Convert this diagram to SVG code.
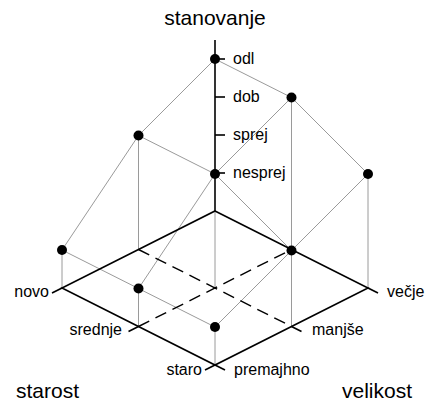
<svg xmlns="http://www.w3.org/2000/svg" width="425" height="402" viewBox="0 0 425 402">
<style>
text{font-family:"Liberation Sans",Arial,sans-serif;fill:#000}
.lbl{font-size:16px}
.title{font-size:21px}
.axis{stroke:#000;stroke-width:1.6;fill:none;stroke-linecap:butt}
.dash{stroke:#000;stroke-width:1.4;fill:none;stroke-dasharray:12,7}
.mesh{stroke:#9a9a9a;stroke-width:1;fill:none}
.dot{fill:#000}
</style>
<rect width="425" height="402" fill="#fff"/>
<g id="connectors">
<g id="drops">
<line class="mesh" x1="62" y1="250" x2="62" y2="288"/>
<line class="mesh" x1="138.5" y1="135.5" x2="138.5" y2="249.5"/>
<line class="mesh" x1="138.5" y1="288.5" x2="138.5" y2="326.5"/>
<line class="mesh" x1="215" y1="211" x2="215" y2="288"/>
<line class="mesh" x1="215" y1="327" x2="215" y2="365"/>
<line class="mesh" x1="291.5" y1="97.5" x2="291.5" y2="326.5"/>
<line class="mesh" x1="368" y1="174" x2="368" y2="288"/>
</g>
<g id="surface">
<polyline class="mesh" points="62,250 138.5,135.5 215,59 291.5,97.5 368,174"/>
<polyline class="mesh" points="138.5,288.5 215,174 291.5,97.5"/>
<polyline class="mesh" points="215,327 291.5,250.5 368,174"/>
<polyline class="mesh" points="62,250 138.5,288.5 215,327"/>
<polyline class="mesh" points="138.5,135.5 215,174 291.5,250.5"/>
</g>
<g id="grid">
<line class="dash" x1="138.5" y1="249.5" x2="291.5" y2="326.5"/>
<line class="dash" x1="138.5" y1="326.5" x2="291.5" y2="249.5"/>
<polygon class="axis" points="215,211 368,288 215,365 62,288"/>
<line class="axis" x1="62" y1="288" x2="52" y2="293"/>
<line class="axis" x1="138.5" y1="326.5" x2="128.5" y2="331.5"/>
<line class="axis" x1="215" y1="365" x2="205" y2="370"/>
<line class="axis" x1="215" y1="365" x2="225" y2="370"/>
<line class="axis" x1="291.5" y1="326.5" x2="301.5" y2="331.5"/>
<line class="axis" x1="368" y1="288" x2="378" y2="293"/>
<line class="axis" x1="215" y1="40" x2="215" y2="211"/>
<line class="axis" x1="215" y1="59" x2="225" y2="59"/>
<line class="axis" x1="215" y1="97" x2="225" y2="97"/>
<line class="axis" x1="215" y1="135" x2="225" y2="135"/>
<line class="axis" x1="215" y1="173" x2="225" y2="173"/>
</g>
</g>
<g id="points">
<circle id="p-novo-vecje" class="dot" cx="215" cy="59" r="5"/>
<circle id="p-srednje-vecje" class="dot" cx="291.5" cy="97.5" r="5"/>
<circle id="p-novo-manjse" class="dot" cx="138.5" cy="135.5" r="5"/>
<circle id="p-srednje-manjse" class="dot" cx="215" cy="174" r="5"/>
<circle id="p-staro-vecje" class="dot" cx="368" cy="174" r="5"/>
<circle id="p-novo-premajhno" class="dot" cx="62" cy="250" r="5"/>
<circle id="p-staro-manjse" class="dot" cx="291.5" cy="250.5" r="5"/>
<circle id="p-srednje-premajhno" class="dot" cx="138.5" cy="288.5" r="5"/>
<circle id="p-staro-premajhno" class="dot" cx="215" cy="327" r="5"/>
</g>
<g id="labels">
<text class="title" x="215" y="25" text-anchor="middle">stanovanje</text>
<text class="title" x="16" y="398">starost</text>
<text class="title" x="342" y="398">velikost</text>
<text class="lbl" x="233" y="64">odl</text>
<text class="lbl" x="233" y="102">dob</text>
<text class="lbl" x="233" y="140">sprej</text>
<text class="lbl" x="233" y="178">nesprej</text>
<text class="lbl" x="49" y="297" text-anchor="end">novo</text>
<text class="lbl" x="122" y="335" text-anchor="end">srednje</text>
<text class="lbl" x="202" y="375" text-anchor="end">staro</text>
<text class="lbl" x="234" y="375">premajhno</text>
<text class="lbl" x="312" y="335">manjše</text>
<text class="lbl" x="387" y="297">večje</text>
</g>
</svg>
